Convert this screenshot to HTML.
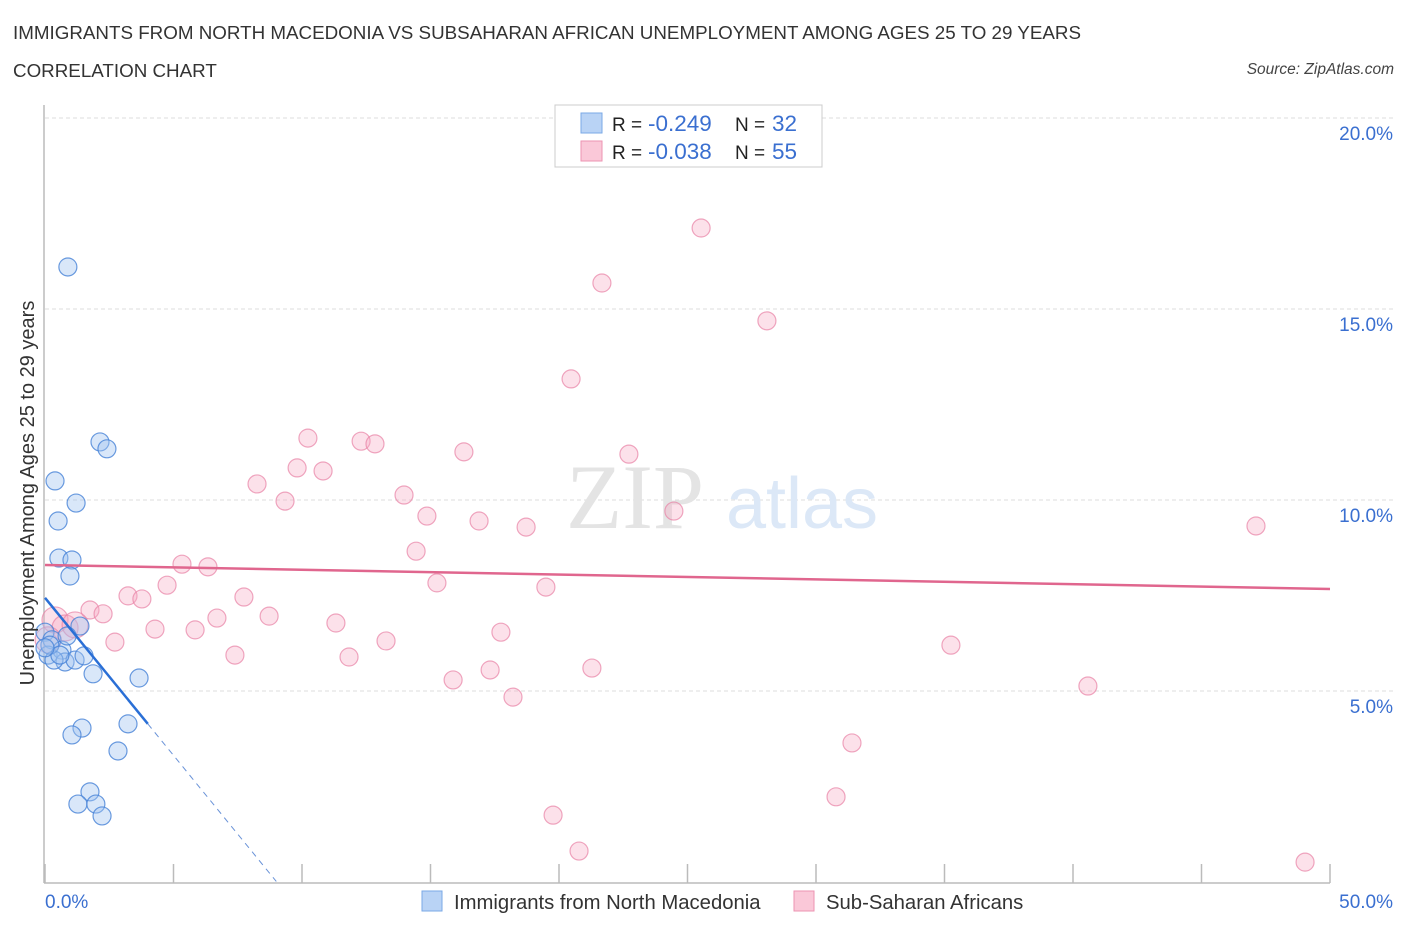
<!DOCTYPE html>
<html><head><meta charset="utf-8">
<style>
body{margin:0;background:#fff;font-family:"Liberation Sans",sans-serif;}
#wrap{position:relative;width:1406px;height:930px;overflow:hidden;}
.t{position:absolute;white-space:nowrap;}
</style></head>
<body>
<div id="wrap">
<div class="t" style="left:13px;top:22px;font-size:18.8px;color:#333;">IMMIGRANTS FROM NORTH MACEDONIA VS SUBSAHARAN AFRICAN UNEMPLOYMENT AMONG AGES 25 TO 29 YEARS</div>
<div class="t" style="left:13px;top:60px;font-size:18.8px;color:#333;">CORRELATION CHART</div>
<div class="t" style="right:12px;top:61px;font-size:15.5px;font-style:italic;color:#444;">Source: ZipAtlas.com</div>
<svg id="chart" width="1406" height="930" style="position:absolute;left:0;top:0"></svg>
</div>
<script>
const blueX=[0.89,2.14,2.41,0.39,1.21,0.51,0.54,1.05,0.97,0.0,0.27,0.12,0.66,0.78,1.17,1.36,0.86,1.52,1.87,3.66,1.44,1.05,3.23,2.84,1.75,1.28,1.98,2.22,0.35,0.19,0.58,0.0];
const blueY=[16.10,11.52,11.34,10.50,9.92,9.45,8.48,8.43,8.01,6.54,6.34,5.94,6.07,5.76,5.81,6.70,6.44,5.92,5.45,5.34,4.03,3.85,4.14,3.43,2.36,2.04,2.04,1.73,5.81,6.20,5.94,6.13];
const pinkX=[25.53,21.67,28.09,20.47,10.23,12.30,12.84,16.30,22.72,9.81,10.82,8.25,13.97,9.34,14.86,16.89,24.47,18.72,47.12,14.44,5.33,6.34,4.75,15.25,19.49,3.23,3.77,7.74,1.75,2.26,8.72,6.69,11.32,4.28,5.84,17.74,2.72,13.27,35.25,7.39,11.83,21.28,17.32,15.88,40.58,18.21,31.40,30.78,19.77,20.78,49.03,0.39,0.78,1.17,0.12];
const pinkY=[17.12,15.68,14.69,13.17,11.62,11.54,11.47,11.26,11.20,10.84,10.76,10.42,10.13,9.97,9.58,9.45,9.71,9.29,9.32,8.66,8.32,8.25,7.77,7.83,7.72,7.49,7.41,7.46,7.12,7.02,6.96,6.91,6.78,6.62,6.60,6.54,6.28,6.31,6.20,5.94,5.89,5.60,5.55,5.29,5.13,4.84,3.64,2.23,1.75,0.81,0.52,6.86,6.65,6.73,6.34];
const yTicks=[5,10,15,20];
const yTickLabels=["5.0%","10.0%","15.0%","20.0%"];
const xTicks=[0,5,10,15,20,25,30,35,40,45,50];
const blueTrend=[7.44,-0.825,4.0,9.0]; // intercept, slope, solid end x, dashed end x
const pinkTrend=[8.3,7.67];

const NS="http://www.w3.org/2000/svg";
const svg=document.getElementById('chart');
const X=v=>45+v*25.7;
const Y=v=>882-v*38.2;
function el(tag,attrs,parent){const e=document.createElementNS(NS,tag);for(const k in attrs)e.setAttribute(k,attrs[k]);(parent||svg).appendChild(e);return e;}

yTicks.forEach((t,i)=>{
  const g=el('line',{x1:45,x2:1393,y1:Y(t),y2:Y(t),stroke:'#ddd','stroke-dasharray':'4 3'});
  
  
  const tx=el('text',{x:1393,y:Y(t)+22,'text-anchor':'end','font-size':19,fill:'#3a6fd0','font-family':'Liberation Sans, sans-serif'});
  tx.textContent=yTickLabels[i];
  
  
});
const wm=el('text',{x:635,y:528,'text-anchor':'middle','font-size':92,fill:'#e4e4e4','font-family':'Liberation Serif, serif'});
wm.textContent='ZIP';


const wm2=el('text',{x:802,y:528,'text-anchor':'middle','font-size':72,fill:'#dce8f7','font-family':'Liberation Sans, sans-serif'});
wm2.textContent='atlas';



const ax=el('line',{x1:44,x2:44,y1:105,y2:883,stroke:'#bbb','stroke-width':1.5});


const bx=el('line',{x1:44,x2:1330,y1:883,y2:883,stroke:'#bbb','stroke-width':1.5});


xTicks.forEach(t=>{
  const l=el('line',{x1:X(t),x2:X(t),y1:864,y2:883,stroke:'#bbb','stroke-width':1.5});
  
  
});

pinkX.forEach((x,i)=>{
  const c=el('circle',{cx:X(x),cy:Y(pinkY[i]),r:i>=51?13:9,fill:'rgba(246,170,195,0.35)',stroke:'rgba(232,130,165,0.7)','stroke-width':1.2});
  
  
});
blueX.forEach((x,i)=>{
  const c=el('circle',{cx:X(x),cy:Y(blueY[i]),r:9,fill:'rgba(160,195,240,0.4)',stroke:'rgba(70,130,215,0.8)','stroke-width':1.2});
  
  
});

const pl=el('line',{x1:X(0),y1:Y(pinkTrend[0]),x2:X(50),y2:Y(pinkTrend[1]),stroke:'#e0668e','stroke-width':2.5});


const b0=blueTrend[0],bs=blueTrend[1];
const bl=el('line',{x1:X(0),y1:Y(b0),x2:X(blueTrend[2]),y2:Y(b0+bs*blueTrend[2]),stroke:'#2a6fd6','stroke-width':2.5});


const bd=el('line',{x1:X(blueTrend[2]),y1:Y(b0+bs*blueTrend[2]),x2:X(blueTrend[3]),y2:Y(b0+bs*blueTrend[3]),stroke:'#6a93d8','stroke-width':1,'stroke-dasharray':'6 5'});



function txt(x,y,s,fill,size,anchor,name){const t=el('text',{x:x,y:y,'font-size':size,fill:fill,'text-anchor':anchor||'start','font-family':'Liberation Sans, sans-serif'});t.textContent=s;return t;}
txt(45,908,'0.0%','#3a6fd0',19,'start','x-min-label');
txt(1393,908,'50.0%','#3a6fd0',19,'end','x-max-label');
const yt=txt(0,0,'Unemployment Among Ages 25 to 29 years','#333',20,'middle','y-axis-title');
yt.setAttribute('transform','translate(34,493) rotate(-90)');

const lg=el('rect',{x:555,y:105,width:267,height:62,fill:'#fff',stroke:'#ccc'});


const s1=el('rect',{x:581,y:113,width:21,height:20,fill:'#b9d3f5',stroke:'#7aa8e6'});


const s2=el('rect',{x:581,y:141,width:21,height:20,fill:'#fac8d8',stroke:'#ec93b2'});


txt(612,131,'R =','#222',19,'start','legend-r-label');
txt(648,131,'-0.249','#3a6fd0',22.5,'start','legend-r-blue');
txt(735,131,'N =','#222',19,'start','legend-n-label');
txt(772,131,'32','#3a6fd0',22.5,'start','legend-n-blue');
txt(612,159,'R =','#222',19,'start','legend-r-label');
txt(648,159,'-0.038','#3a6fd0',22.5,'start','legend-r-pink');
txt(735,159,'N =','#222',19,'start','legend-n-label');
txt(772,159,'55','#3a6fd0',22.5,'start','legend-n-pink');

const b1=el('rect',{x:422,y:891,width:20,height:20,fill:'#b9d3f5',stroke:'#7aa8e6'});


txt(454,909,'Immigrants from North Macedonia','#333',20.3,'start','legend-entry-blue');
const b2=el('rect',{x:794,y:891,width:20,height:20,fill:'#fac8d8',stroke:'#ec93b2'});


txt(826,909,'Sub-Saharan Africans','#333',20.3,'start','legend-entry-pink');
</script>
</body></html>
